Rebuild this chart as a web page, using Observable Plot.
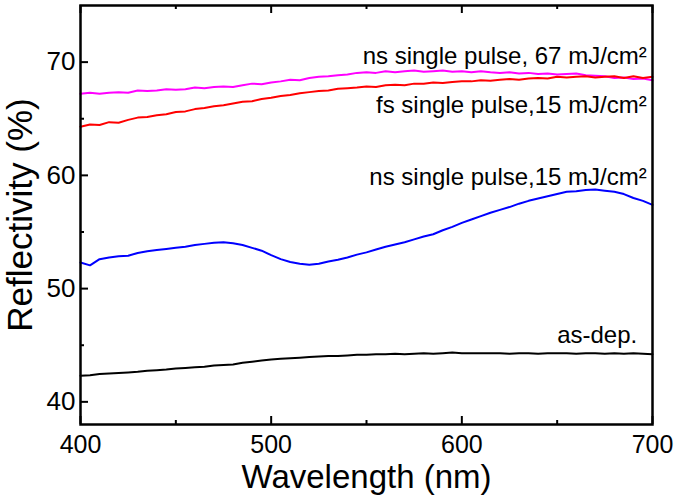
<!DOCTYPE html>
<html>
<head>
<meta charset="utf-8">
<script src="https://cdn.jsdelivr.net/npm/d3@7"></script>
<script src="https://cdn.jsdelivr.net/npm/@observablehq/plot@0.6"></script>
<style>
  html, body { margin: 0; padding: 0; background: #fff; }
  #chart svg { display: block; }
</style>
</head>
<body>
<div id="chart"></div>
<script>
// Wavelength (nm)
const wavelength = [400,405,410,415,420,425,430,435,440,445,450,455,460,465,470,475,480,485,490,495,500,505,510,515,520,525,530,535,540,545,550,555,560,565,570,575,580,585,590,595,600,605,610,615,620,625,630,635,640,645,650,655,660,665,670,675,680,685,690,695,700];

// Reflectivity (%) per series
const ns67 = [67.2,67.3,67.2,67.3,67.35,67.3,67.5,67.45,67.5,67.6,67.55,67.6,67.75,67.7,67.8,67.85,67.8,67.95,68.1,68.05,68.2,68.3,68.45,68.4,68.6,68.7,68.75,68.85,68.9,69.05,69.1,69.05,69.2,69.1,69.2,69.25,69.15,69.2,69.25,69.15,69.2,69.1,69.2,69.1,69.05,69.1,69.0,69.05,68.95,69.0,68.9,68.95,69.0,68.85,68.8,68.75,68.6,68.65,68.5,68.55,68.4];
const fs15 = [64.3,64.5,64.45,64.7,64.65,64.9,65.1,65.15,65.3,65.4,65.6,65.65,65.85,65.95,66.1,66.2,66.35,66.5,66.55,66.75,66.85,67.0,67.1,67.25,67.35,67.45,67.5,67.65,67.7,67.75,67.85,67.8,67.95,68.0,67.95,68.1,68.1,68.2,68.15,68.25,68.3,68.3,68.4,68.35,68.45,68.5,68.45,68.55,68.6,68.55,68.7,68.65,68.7,68.75,68.65,68.7,68.75,68.6,68.75,68.6,68.7];
const ns15 = [52.3,52.05,52.6,52.75,52.85,52.9,53.15,53.3,53.4,53.5,53.6,53.7,53.85,53.95,54.05,54.1,54.0,53.85,53.6,53.35,52.95,52.6,52.35,52.2,52.1,52.2,52.4,52.55,52.75,53.0,53.2,53.45,53.7,53.9,54.1,54.35,54.6,54.8,55.15,55.45,55.8,56.1,56.4,56.7,56.95,57.2,57.5,57.75,57.95,58.15,58.35,58.55,58.6,58.7,58.75,58.65,58.55,58.35,58.0,57.75,57.4];
const asDep = [42.3,42.35,42.45,42.5,42.55,42.6,42.65,42.75,42.8,42.85,42.95,43.0,43.05,43.1,43.2,43.25,43.3,43.45,43.55,43.65,43.75,43.8,43.85,43.9,43.95,44.0,44.05,44.05,44.1,44.15,44.15,44.2,44.2,44.25,44.2,44.25,44.3,44.25,44.3,44.35,44.3,44.3,44.3,44.3,44.3,44.25,44.3,44.3,44.25,44.3,44.3,44.3,44.25,44.3,44.3,44.25,44.3,44.25,44.3,44.25,44.2];

const seriesNames = ["ns67", "fs15", "ns15", "asDep"];
const seriesValues = [ns67, fs15, ns15, asDep];
const seriesColors = ["#ff00ff", "#ff0000", "#0000ff", "#000000"];

// Curve annotations
const labelText = ["ns single pulse, 67 mJ/cm²", "fs single pulse,15 mJ/cm²", "ns single pulse,15 mJ/cm²", "as-dep."];
const labelX = [697, 697, 697, 692];
const labelY = [70.5, 66.2, 59.85, 45.9];

// Ticks
const xMajor = [400, 500, 600, 700];
const xMinor = [450, 550, 650];
const yMajor = [40, 50, 60, 70];
const yMinor = [45, 55, 65];

const rows = [];
seriesNames.forEach((s, i) => {
  wavelength.forEach((w, j) => rows.push({series: s, x: w, y: seriesValues[i][j]}));
});
const labels = labelText.map((t, i) => ({text: t, x: labelX[i], y: labelY[i]}));

const W = 685, H = 498, mL = 80, mR = 33, mT = 5, mB = 74;
const fw = W - mL - mR, fh = H - mT - mB;
const font = "'Liberation Sans', Arial, Helvetica, sans-serif";
const tk = {stroke: "#000", strokeWidth: 2};

const chart = Plot.plot({
  width: W,
  height: H,
  marginLeft: mL,
  marginRight: mR,
  marginTop: mT,
  marginBottom: mB,
  style: {fontFamily: font, background: "#fff", color: "#000"},
  x: {domain: [400, 700]},
  y: {domain: [38, 75]},
  color: {domain: seriesNames, range: seriesColors},
  marks: [
    Plot.line(rows, {x: "x", y: "y", z: "series", stroke: "series", strokeWidth: 2, strokeLinejoin: "miter"}),
    // inward ticks, bottom & top
    Plot.tickX(xMajor, {x: d => d, insetTop: fh - 8, ...tk}),
    Plot.tickX(xMinor, {x: d => d, insetTop: fh - 4, ...tk}),
    Plot.tickX(xMajor, {x: d => d, insetBottom: fh - 8, ...tk}),
    Plot.tickX(xMinor, {x: d => d, insetBottom: fh - 4, ...tk}),
    // inward ticks, left
    Plot.tickY(yMajor, {y: d => d, insetRight: fw - 8, ...tk}),
    Plot.tickY(yMinor, {y: d => d, insetRight: fw - 4, ...tk}),
    Plot.axisX({ticks: xMajor, tickSize: 0, tickPadding: 11, fontSize: 25, label: null, tickFormat: d => String(d)}),
    Plot.axisY({ticks: yMajor, tickSize: 0, tickPadding: 5, fontSize: 26, label: null, tickFormat: d => String(d)}),
    Plot.frame({stroke: "#000", strokeWidth: 2.5}),
    Plot.text(labels, {x: "x", y: "y", text: "text", textAnchor: "end", fontSize: 24, fill: "#000"}),
    Plot.text(["Wavelength (nm)"], {frameAnchor: "bottom", dy: 53, lineAnchor: "middle", textAnchor: "middle", text: d => d, fontSize: 33, fill: "#000"}),
    Plot.text(["Reflectivity (%)"], {frameAnchor: "left", dx: -60, rotate: -90, lineAnchor: "middle", textAnchor: "middle", text: d => d, fontSize: 35, fill: "#000"})
  ]
});
document.getElementById("chart").appendChild(chart);
</script>
</body>
</html>
